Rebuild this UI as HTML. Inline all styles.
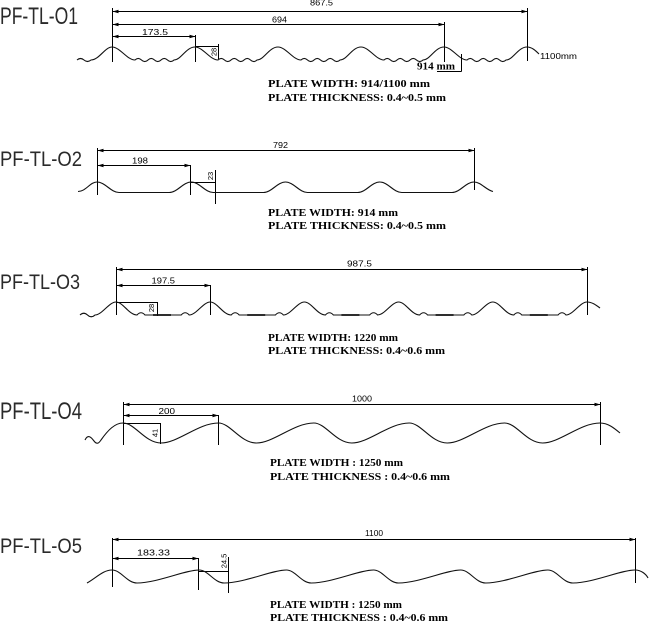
<!DOCTYPE html>
<html><head><meta charset="utf-8">
<style>
html,body{margin:0;padding:0;background:#fff;}
svg{display:block;}
.t{font-family:"Liberation Sans",sans-serif;fill:#2a2a2a;}
.d{font-family:"Liberation Sans",sans-serif;font-size:8.5px;fill:#000;}
.r{font-family:"Liberation Sans",sans-serif;font-size:7.5px;fill:#000;}
.p{font-family:"Liberation Serif",serif;font-weight:bold;font-size:10.5px;fill:#000;}
.l{fill:none;stroke:#000;stroke-width:1;}
.w{fill:none;stroke:#111;stroke-width:1.1;}
.k{fill:none;stroke:#111;stroke-width:1.7;}
</style></head><body>
<svg width="649" height="622" viewBox="0 0 649 622" xmlns="http://www.w3.org/2000/svg">
<defs>
<marker id="a" markerWidth="6" markerHeight="4" refX="6" refY="2" orient="auto-start-reverse" markerUnits="userSpaceOnUse"><path d="M0,0.3 L6,2 L0,3.7z" fill="#000"/></marker>
</defs>
<rect width="649" height="622" fill="#fff"/>

<!-- Section 1 -->
<text class="t" x="0" y="24" font-size="24" textLength="78" lengthAdjust="spacingAndGlyphs">PF-TL-O1</text>
<path class="l" d="M112.5,8 V62 M527.5,8 V61 M444.5,22 V62 M195.5,35 V62"/>
<line class="l" x1="112.5" y1="11.5" x2="527.5" y2="11.5" marker-start="url(#a)" marker-end="url(#a)"/>
<line class="l" x1="112.5" y1="24.5" x2="444.5" y2="24.5" marker-start="url(#a)" marker-end="url(#a)"/>
<line class="l" x1="112.5" y1="36.5" x2="195.5" y2="36.5" marker-start="url(#a)" marker-end="url(#a)"/>
<text class="d" x="310" y="5.5" textLength="23" lengthAdjust="spacingAndGlyphs">867.5</text>
<text class="d" x="272" y="22.5" textLength="15" lengthAdjust="spacingAndGlyphs">694</text>
<text class="d" x="142" y="35" textLength="26" lengthAdjust="spacingAndGlyphs">173.5</text>
<path class="l" d="M195.5,46.5 H219 M218.5,44 V59"/>
<text class="r" transform="translate(216.5,52) rotate(-90)" text-anchor="middle">28</text>
<path class="w" d="M77,60 q3.5,-3 7,0 t7,0 C99,60 105,47 112,47
c8,0 15,13 23,13 q3.2,-3.2 6.5,0 t6.5,0 t6.5,0 t6.5,0 t6.5,0 t6.5,0 c7,0 12,-13 21,-13
c8,0 15,13 23,13 q3.2,-3.2 6.5,0 t6.5,0 t6.5,0 t6.5,0 t6.5,0 t6.5,0 c7,0 12,-13 21,-13
c8,0 15,13 23,13 q3.2,-3.2 6.5,0 t6.5,0 t6.5,0 t6.5,0 t6.5,0 t6.5,0 c7,0 12,-13 21,-13
c8,0 15,13 23,13 q3.2,-3.2 6.5,0 t6.5,0 t6.5,0 t6.5,0 t6.5,0 t6.5,0 c7,0 12,-13 21,-13
c8,0 15,13 23,13 q3.2,-3.2 6.5,0 t6.5,0 t6.5,0 t6.5,0 t6.5,0 t6.5,0 c7,0 12,-13 21,-13
c5,0 9,4 12,7"/>
<text class="d" x="540" y="59" font-size="10" textLength="37" lengthAdjust="spacingAndGlyphs">1100mm</text>
<text class="p" x="417" y="69.5" font-size="9" textLength="38" lengthAdjust="spacingAndGlyphs">914 mm</text>
<path class="l" d="M437,71.5 H461.5 M461.5,54 V71.5"/>
<text class="p" x="268" y="87" textLength="162" lengthAdjust="spacingAndGlyphs">PLATE WIDTH: 914/1100 mm</text>
<text class="p" x="268" y="101" textLength="178" lengthAdjust="spacingAndGlyphs">PLATE THICKNESS: 0.4~0.5 mm</text>

<!-- Section 2 -->
<text class="t" x="0" y="166" font-size="21" textLength="82" lengthAdjust="spacingAndGlyphs">PF-TL-O2</text>
<path class="l" d="M97.5,148 V195 M474.5,148 V190 M190.5,165 V195"/>
<line class="l" x1="97.5" y1="150.5" x2="474.5" y2="150.5" marker-start="url(#a)" marker-end="url(#a)"/>
<line class="l" x1="97.5" y1="165.5" x2="190.5" y2="165.5" marker-start="url(#a)" marker-end="url(#a)"/>
<text class="d" x="273" y="148" textLength="15" lengthAdjust="spacingAndGlyphs">792</text>
<text class="d" x="132" y="163.5" textLength="16" lengthAdjust="spacingAndGlyphs">198</text>
<path class="l" d="M190.5,182.5 H216 M215.5,170 V204"/>
<text class="r" transform="translate(213,176) rotate(-90)" text-anchor="middle">23</text>
<path class="w" d="M78,191.5 C86,191.5 90,182 97,182
c8,0 14,10.5 22,10.5 h50.25 c8,0 14,-10.5 22,-10.5
c8,0 14,10.5 22,10.5 h50.25 c8,0 14,-10.5 22,-10.5
c8,0 14,10.5 22,10.5 h50.25 c8,0 14,-10.5 22,-10.5
c8,0 14,10.5 22,10.5 h50.25 c8,0 14,-10.5 22,-10.5
c7,0 12,8 19,9.5"/>
<text class="p" x="268" y="216" textLength="130" lengthAdjust="spacingAndGlyphs">PLATE WIDTH: 914 mm</text>
<text class="p" x="268" y="229" textLength="178" lengthAdjust="spacingAndGlyphs">PLATE THICKNESS: 0.4~0.5 mm</text>

<!-- Section 3 -->
<text class="t" x="0" y="289" font-size="21" textLength="80" lengthAdjust="spacingAndGlyphs">PF-TL-O3</text>
<path class="l" d="M116.5,267 V315 M587.5,267 V315 M210.5,285 V315"/>
<line class="l" x1="116.5" y1="269.5" x2="587.5" y2="269.5" marker-start="url(#a)" marker-end="url(#a)"/>
<line class="l" x1="116.5" y1="285.5" x2="210.5" y2="285.5" marker-start="url(#a)" marker-end="url(#a)"/>
<text class="d" x="347" y="266.5" textLength="25" lengthAdjust="spacingAndGlyphs">987.5</text>
<text class="d" x="151.5" y="283.5" textLength="23.5" lengthAdjust="spacingAndGlyphs">197.5</text>
<path class="l" d="M116.5,302.5 H157.5 M157.5,302 V316"/>
<text class="r" transform="translate(154,308) rotate(-90)" text-anchor="middle">28</text>
<path class="w" d="M80,315 q3.75,-3.5 7.5,0 t7.5,0 c7,0 14,-13 21,-13
c7,0 13,13 21,13 q4,-4.5 8,0 h36.2 q4,-4.5 8,0 c7,0 14,-13 21,-13
c7,0 13,13 21,13 q4,-4.5 8,0 h36.2 q4,-4.5 8,0 c7,0 14,-13 21,-13
c7,0 13,13 21,13 q4,-4.5 8,0 h36.2 q4,-4.5 8,0 c7,0 14,-13 21,-13
c7,0 13,13 21,13 q4,-4.5 8,0 h36.2 q4,-4.5 8,0 c7,0 14,-13 21,-13
c7,0 13,13 21,13 q4,-4.5 8,0 h36.2 q4,-4.5 8,0 c7,0 14,-13 21,-13
c5,0 9,3 13,6"/>
<path class="k" d="M153,315 h18 M247.2,315 h18 M341.4,315 h18 M435.6,315 h18 M529.8,315 h18"/>
<text class="p" x="268" y="341" textLength="130" lengthAdjust="spacingAndGlyphs">PLATE WIDTH: 1220 mm</text>
<text class="p" x="268" y="354" textLength="177" lengthAdjust="spacingAndGlyphs">PLATE THICKNESS: 0.4~0.6 mm</text>

<!-- Section 4 -->
<text class="t" x="0" y="419" font-size="24" textLength="82" lengthAdjust="spacingAndGlyphs">PF-TL-O4</text>
<path class="l" d="M123.5,402 V445 M600.5,402 V445 M218.5,415 V445"/>
<line class="l" x1="123.5" y1="404.5" x2="600.5" y2="404.5" marker-start="url(#a)" marker-end="url(#a)"/>
<line class="l" x1="123.5" y1="415.5" x2="218.5" y2="415.5" marker-start="url(#a)" marker-end="url(#a)"/>
<text class="d" x="352" y="401.5" textLength="20" lengthAdjust="spacingAndGlyphs">1000</text>
<text class="d" x="158.5" y="414" textLength="16.5" lengthAdjust="spacingAndGlyphs">200</text>
<path class="l" d="M123.5,423.5 H160.5 M160.5,423 V444"/>
<text class="r" font-size="8.5" transform="translate(157.5,433) rotate(-90)" text-anchor="middle">41</text>
<path class="w" d="M85,440 C88,434 91,437 94,441 C97,445 99,443 101,440 C108,430 115,423 123,423
c12,0 22,20 38,20 c17,0 37.4,-20 57.4,-20
c12,0 22,20 38,20 c17,0 37.4,-20 57.4,-20
c12,0 22,20 38,20 c17,0 37.4,-20 57.4,-20
c12,0 22,20 38,20 c17,0 37.4,-20 57.4,-20
c12,0 22,20 38,20 c17,0 37.4,-20 57.4,-20
c8,0 14,5 20,10"/>
<text class="p" x="270" y="466" textLength="133" lengthAdjust="spacingAndGlyphs">PLATE WIDTH : 1250 mm</text>
<text class="p" x="270" y="480" textLength="180" lengthAdjust="spacingAndGlyphs">PLATE THICKNESS : 0.4~0.6 mm</text>

<!-- Section 5 -->
<text class="t" x="0" y="553" font-size="21" textLength="82" lengthAdjust="spacingAndGlyphs">PF-TL-O5</text>
<path class="l" d="M112.5,538 V587 M635.5,538 V583 M198.5,558 V590"/>
<line class="l" x1="112.5" y1="539.5" x2="635.5" y2="539.5" marker-start="url(#a)" marker-end="url(#a)"/>
<line class="l" x1="112.5" y1="558.5" x2="198.5" y2="558.5" marker-start="url(#a)" marker-end="url(#a)"/>
<text class="d" x="365" y="536" textLength="18" lengthAdjust="spacingAndGlyphs">1100</text>
<text class="d" x="137" y="555.5" textLength="33" lengthAdjust="spacingAndGlyphs">183.33</text>
<path class="l" d="M198.5,571.5 H229 M228.5,557 V593"/>
<text class="r" transform="translate(226.5,561) rotate(-90)" text-anchor="middle">24.5</text>
<path class="w" d="M87,583 C96,578 103,570 112,570
c9,0 15,13 25,13 c20,0 48.17,-13 62.17,-13
c9,0 15,13 25,13 c20,0 48.17,-13 62.17,-13
c9,0 15,13 25,13 c20,0 48.17,-13 62.17,-13
c9,0 15,13 25,13 c20,0 48.17,-13 62.17,-13
c9,0 15,13 25,13 c20,0 48.17,-13 62.17,-13
c9,0 15,13 25,13 c20,0 48.17,-13 62.17,-13
c6,0 11,4 13,8"/>
<text class="p" x="270" y="608" textLength="132" lengthAdjust="spacingAndGlyphs">PLATE WIDTH : 1250 mm</text>
<text class="p" x="270" y="621" textLength="178" lengthAdjust="spacingAndGlyphs">PLATE THICKNESS : 0.4~0.6 mm</text>
</svg>
</body></html>
